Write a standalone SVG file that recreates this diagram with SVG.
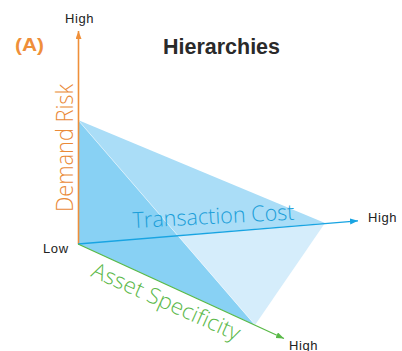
<svg xmlns="http://www.w3.org/2000/svg" width="402" height="351" viewBox="0 0 402 351">
<style>
.tick{font-family:"Liberation Sans",Arial,sans-serif;font-size:13px;fill:#222;letter-spacing:0.6px}
.axl{font-family:"Open Sans","Liberation Sans",Arial,sans-serif;font-weight:300}
</style>
<defs>
<marker id="ao" markerUnits="userSpaceOnUse" markerWidth="9" markerHeight="7" refX="8" refY="3" orient="auto"><path d="M0,0 L8,3 L0,6 z" fill="#ef8f3a"/></marker>
<marker id="ab" markerUnits="userSpaceOnUse" markerWidth="9" markerHeight="7" refX="8" refY="3" orient="auto"><path d="M0,0 L8,3 L0,6 z" fill="#18a4e2"/></marker>
<marker id="ag" markerUnits="userSpaceOnUse" markerWidth="9" markerHeight="7" refX="8" refY="3" orient="auto"><path d="M0,0 L8,3 L0,6 z" fill="#59b947"/></marker>
</defs>
<rect width="402" height="351" fill="#fff"/>
<g id="pyramid">
<polygon points="78,120 78,244 255,325" fill="#88d1f4"/>
<polygon points="78,120 177.7,235.5 325,223" fill="#aaddf7"/>
<polygon points="177.7,235.5 325,223 255,325" fill="#d5edfb"/>
<line x1="78" y1="120" x2="255" y2="325" stroke="#ffffff" stroke-opacity="0.45" stroke-width="1"/>
</g>
<g id="connectors">
<line x1="78.5" y1="244" x2="78.5" y2="31" stroke="#ef8f3a" stroke-width="1.6" marker-end="url(#ao)"/>
<line x1="78" y1="244" x2="358" y2="220.8" stroke="#18a4e2" stroke-width="1.3" marker-end="url(#ab)"/>
<line x1="78" y1="244" x2="284" y2="338.5" stroke="#59b947" stroke-width="1.3" marker-end="url(#ag)"/>
</g>
<g id="label-a"><text x="15" y="51" font-family="Liberation Sans,Arial,sans-serif" font-weight="bold" font-size="19" fill="#ef8f3a" textLength="29" lengthAdjust="spacingAndGlyphs">(A)</text></g>
<g id="title"><text x="163" y="54" font-family="Liberation Sans,Arial,sans-serif" font-weight="bold" font-size="22" fill="#2a2a2a" textLength="117" lengthAdjust="spacingAndGlyphs">Hierarchies</text></g>
<g id="high-demand"><text class="tick" x="65" y="22.5">High</text></g>
<g id="low"><text class="tick" x="43" y="253">Low</text></g>
<g id="high-transaction"><text class="tick" x="368" y="222">High</text></g>
<g id="high-asset"><text class="tick" x="289" y="349.5">High</text></g>
<g id="demand-risk"><text class="axl" font-size="23" transform="translate(73,212) rotate(-90)" fill="#ea8a38" textLength="128" lengthAdjust="spacingAndGlyphs">Demand Risk</text></g>
<g id="transaction-cost"><text class="axl" font-size="22" transform="translate(133,228) rotate(-3)" fill="#1c9fd9" textLength="162" lengthAdjust="spacingAndGlyphs">Transaction Cost</text></g>
<g id="asset-specificity"><text class="axl" font-size="22" transform="translate(90,276) rotate(24)" fill="#5bb849" textLength="160" lengthAdjust="spacingAndGlyphs">Asset Specificity</text></g>
</svg>
